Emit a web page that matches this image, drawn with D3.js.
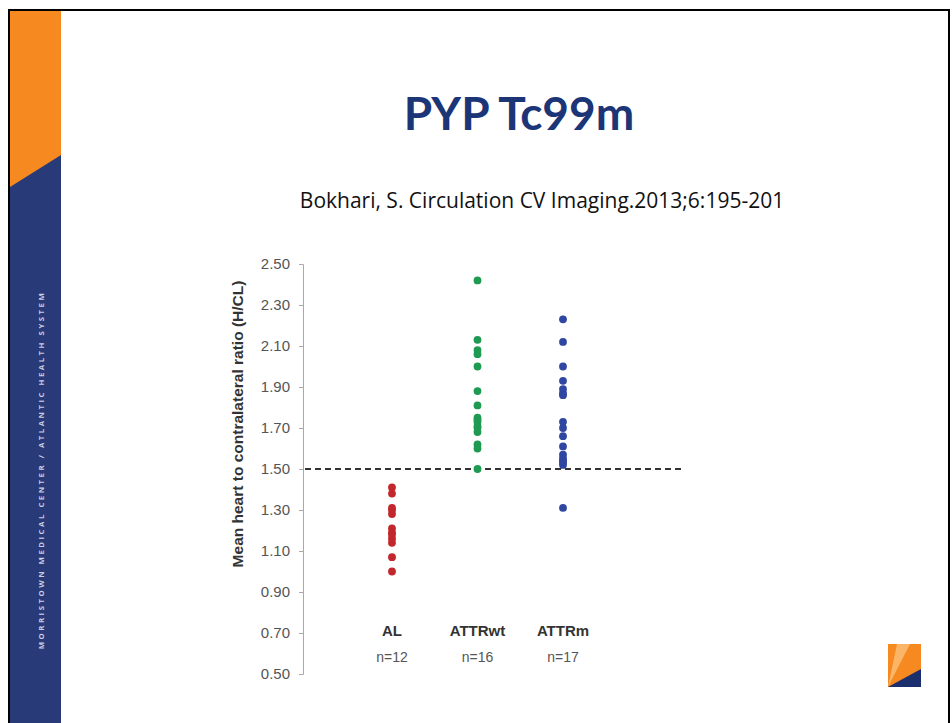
<!DOCTYPE html>
<html>
<head>
<meta charset="utf-8">
<script src="https://cdn.jsdelivr.net/npm/d3@7"></script>
<style>
  body { margin: 0; background: #fff; }
  svg { display: block; }
</style>
</head>
<body>
<div id="chart"></div>
<script>
// groups and their values (mean H/CL ratio)
const groups = ['AL', 'ATTRwt', 'ATTRm'];
const groupN = ['n=12', 'n=16', 'n=17'];
const alValues = [1.41, 1.38, 1.31, 1.30, 1.28, 1.21, 1.19, 1.18, 1.16, 1.14, 1.07, 1.00];
const attrwtValues = [2.42, 2.13, 2.08, 2.06, 2.00, 1.88, 1.81, 1.75, 1.74, 1.73, 1.71, 1.70, 1.68, 1.62, 1.60, 1.50];
const attrmValues = [2.23, 2.12, 2.00, 1.93, 1.89, 1.87, 1.86, 1.73, 1.70, 1.66, 1.61, 1.57, 1.55, 1.54, 1.53, 1.52, 1.31];
const yTicks = [0.50, 0.70, 0.90, 1.10, 1.30, 1.50, 1.70, 1.90, 2.10, 2.30, 2.50];
const threshold = 1.50;
const groupColors = ['#c1272d', '#1f9a52', '#2f47a0'];

const W = 952, H = 723;
const svg = d3.select('#chart').append('svg')
    .attr('width', W)
    .attr('height', H);

// slide frame + side bar
svg.append('rect')
    .attr('x', 9).attr('y', 10)
    .attr('width', 940).attr('height', 730)
    .attr('fill', '#fff')
    .attr('stroke', '#000').attr('stroke-width', 2);

svg.append('rect')
    .attr('x', 10).attr('y', 11)
    .attr('width', 51).attr('height', 720)
    .attr('fill', '#283a78');

svg.append('polygon')
    .attr('points', '10,11 61,11 61,155 10,187')
    .attr('fill', '#f6891f');

svg.append('text')
    .attr('transform', 'translate(44,470) rotate(-90)')
    .attr('text-anchor', 'middle')
    .attr('font-family', 'Open Sans, sans-serif')
    .attr('font-weight', 'bold')
    .attr('font-size', 7.8)
    .attr('letter-spacing', 2.5)
    .attr('fill', '#c9cde0')
    .text('MORRISTOWN MEDICAL CENTER  /  ATLANTIC HEALTH SYSTEM');

// titles
svg.append('text')
    .attr('x', 519).attr('y', 130)
    .attr('text-anchor', 'middle')
    .attr('font-family', 'Lato, Open Sans, sans-serif')
    .attr('font-weight', 'bold')
    .attr('font-size', 46)
    .attr('fill', '#1b3577')
    .text('PYP Tc99m');

svg.append('text')
    .attr('x', 542).attr('y', 208)
    .attr('text-anchor', 'middle')
    .attr('font-family', 'Open Sans, sans-serif')
    .attr('font-size', 21)
    .attr('fill', '#111')
    .text('Bokhari, S. Circulation CV Imaging.2013;6:195-201');

// chart
const y = d3.scaleLinear()
    .domain([0.5, 2.5])
    .range([674, 264]);

const x = d3.scalePoint()
    .domain(groups)
    .range([392, 563]);

const axisX = 303;

const yAxis = svg.append('g')
    .attr('transform', 'translate(' + axisX + ',0)')
    .call(d3.axisLeft(y).tickValues(yTicks).tickFormat(d3.format('.2f')).tickSize(4).tickPadding(9));

yAxis.select('.domain').attr('stroke', '#aaa');
yAxis.selectAll('.tick line').attr('stroke', '#aaa');
yAxis.selectAll('.tick text')
    .attr('font-family', 'Liberation Sans, Arial, sans-serif')
    .attr('font-size', 15)
    .attr('fill', '#555');

svg.append('text')
    .attr('transform', 'translate(243,424) rotate(-90)')
    .attr('text-anchor', 'middle')
    .attr('font-family', 'Liberation Sans, Arial, sans-serif')
    .attr('font-weight', 'bold')
    .attr('font-size', 15.5)
    .attr('fill', '#333')
    .text('Mean heart to contralateral ratio (H/CL)');

// 1.5 cut-off line
svg.append('line')
    .attr('x1', axisX + 2).attr('x2', 682)
    .attr('y1', y(threshold)).attr('y2', y(threshold))
    .attr('stroke', '#333')
    .attr('stroke-width', 2)
    .attr('stroke-dasharray', '6,4');

// points
const series = [alValues, attrwtValues, attrmValues];
series.forEach((vals, i) => {
    svg.append('g')
        .selectAll('circle')
        .data(vals)
        .enter().append('circle')
        .attr('cx', x(groups[i]))
        .attr('cy', d => y(d))
        .attr('r', 3.9)
        .attr('fill', groupColors[i]);
});

// group labels
svg.append('g').selectAll('text')
    .data(groups)
    .enter().append('text')
    .attr('x', d => x(d))
    .attr('y', 636)
    .attr('text-anchor', 'middle')
    .attr('font-family', 'Liberation Sans, Arial, sans-serif')
    .attr('font-weight', 'bold')
    .attr('font-size', 15)
    .attr('fill', '#333')
    .text(d => d);

svg.append('g').selectAll('text')
    .data(groupN)
    .enter().append('text')
    .attr('x', (d, i) => x(groups[i]))
    .attr('y', 662)
    .attr('text-anchor', 'middle')
    .attr('font-family', 'Liberation Sans, Arial, sans-serif')
    .attr('font-size', 14)
    .attr('fill', '#555')
    .text(d => d);

// small logo bottom right
const logo = svg.append('g').attr('transform', 'translate(888,644)');
logo.append('rect').attr('width', 33).attr('height', 43).attr('fill', '#f6891f');
logo.append('polygon').attr('points', '0,43 9,0 22,0').attr('fill', '#fbb566');
logo.append('polygon').attr('points', '0,43 33,25 33,43').attr('fill', '#1b2f6e');
</script>
</body>
</html>
